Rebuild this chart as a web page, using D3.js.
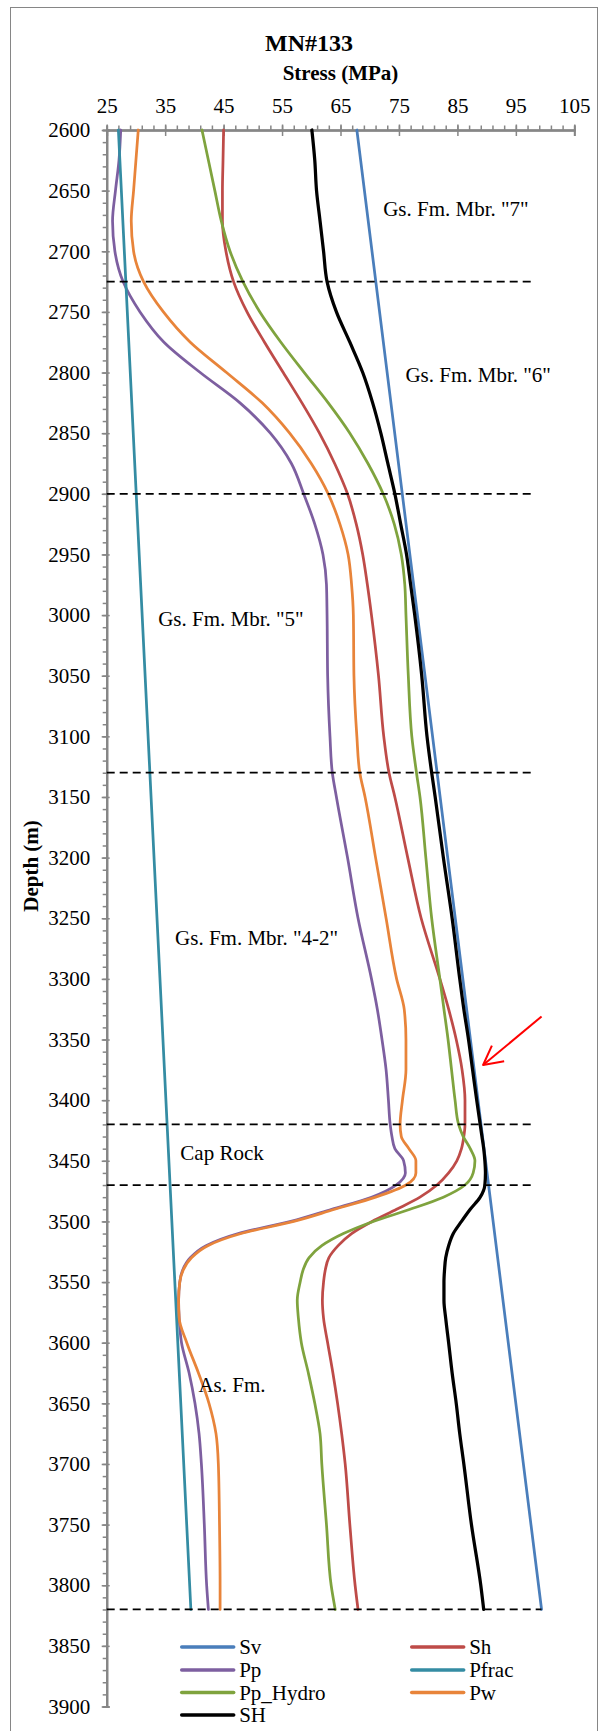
<!DOCTYPE html>
<html>
<head>
<meta charset="utf-8">
<script src="https://cdn.jsdelivr.net/npm/d3@7/dist/d3.min.js"></script>
<style>
  body { margin: 0; background: #fff; }
  svg, svg text { font-family: "Liberation Serif", "Times New Roman", serif; }
</style>
</head>
<body>
<div id="chart"></div>
<script>
const xTicks = [25, 35, 45, 55, 65, 75, 85, 95, 105];
const yTicks = [2600, 2650, 2700, 2750, 2800, 2850, 2900, 2950, 3000, 3050, 3100, 3150, 3200, 3250,
                3300, 3350, 3400, 3450, 3500, 3550, 3600, 3650, 3700, 3750, 3800, 3850, 3900];

// common depth grid for the curved series (m)
const depths = [2600, 2625, 2650, 2675, 2700, 2725, 2750, 2775, 2800, 2825, 2850, 2875, 2900, 2925,
                2950, 2975, 3000, 3050, 3100, 3130, 3150, 3200, 3250, 3300, 3325, 3350, 3375, 3400,
                3420, 3430, 3440, 3450, 3460, 3470, 3480, 3490, 3500, 3510, 3520, 3530, 3540, 3550,
                3565, 3580, 3600, 3625, 3650, 3675, 3700, 3750, 3800, 3820];

const sh = [45.0, 44.9, 44.8, 44.8, 45.4, 46.7, 49.0, 52.0, 55.2, 58.4, 61.4, 64.0, 66.2, 67.7,
            68.8, 69.6, 70.3, 71.5, 72.4, 73.3, 74.3, 76.5, 78.8, 82.0, 83.5, 84.8, 85.8, 86.3,
            86.3, 86.1, 85.7, 84.9, 83.5, 81.5, 78.6, 74.6, 70.4, 66.9, 64.6, 63.0, 62.4, 62.1,
            61.9, 62.1, 62.8, 63.7, 64.5, 65.2, 65.8, 66.6, 67.5, 68.0];

const pp = [27.4, 27.1, 26.5, 26.0, 26.4, 27.8, 30.7, 34.8, 41.0, 47.8, 53.0, 56.6, 58.7, 60.6,
            62.0, 62.6, 62.7, 62.8, 63.2, 63.6, 64.3, 66.2, 68.0, 70.3, 71.3, 72.1, 72.8, 73.2,
            73.5, 73.8, 74.3, 75.8, 76.1, 74.5, 70.3, 63.5, 56.5, 47.5, 42.0, 39.3, 38.0, 37.5,
            37.3, 37.4, 37.8, 39.1, 40.1, 40.8, 41.2, 41.7, 42.1, 42.4];

const ppHydro = [41.3, 42.4, 43.5, 44.6, 46.1, 48.3, 51.2, 54.8, 58.8, 62.9, 66.6, 69.7, 72.3, 74.2,
                 75.4, 76.0, 76.2, 76.6, 77.2, 78.0, 78.6, 79.6, 80.6, 82.0, 82.7, 83.4, 84.0, 84.6,
                 85.2, 86.0, 87.2, 88.0, 87.7, 86.3, 82.6, 76.9, 70.6, 65.5, 61.8, 59.6, 58.6, 58.1,
                 57.6, 57.8, 58.3, 59.5, 60.6, 61.5, 61.8, 62.6, 63.4, 64.1];

const pw = [30.4, 30.0, 29.6, 29.2, 29.6, 31.3, 34.7, 39.3, 45.5, 51.6, 56.3, 60.0, 62.9, 64.9,
            66.3, 66.9, 67.2, 67.3, 67.8, 68.3, 69.2, 71.0, 72.8, 74.6, 75.9, 76.2, 76.2, 75.6,
            75.2, 75.4, 76.7, 77.9, 77.9, 76.2, 71.0, 64.0, 57.0, 48.0, 42.3, 39.5, 38.1, 37.5,
            37.3, 37.4, 38.7, 40.7, 42.5, 43.7, 44.1, 44.3, 44.4, 44.4];

const shMax = [60.1, 60.6, 60.9, 61.5, 62.1, 62.7, 64.3, 66.6, 68.8, 70.5, 71.9, 73.1, 74.3, 75.3,
               76.3, 77.0, 77.7, 78.9, 79.8, 80.6, 81.2, 82.6, 84.1, 85.4, 86.1, 86.9, 87.6, 88.3,
               88.9, 89.2, 89.5, 89.7, 89.8, 89.7, 88.9, 87.2, 85.7, 84.3, 83.5, 83.0, 82.8, 82.7,
               82.7, 83.0, 83.5, 84.1, 84.8, 85.4, 86.1, 87.4, 89.0, 89.5];

// straight-line series
const svDepth = [2600, 3820];
const sv = [67.8, 99.4];
const pfracDepth = [2600, 3820];
const pfrac = [27.0, 39.4];

// formation boundaries (dashed)
const boundaryDepths = [2725, 2900, 3130, 3420, 3470, 3820];
const boundaryEnds = [98, 98, 98, 98, 98, 99.4];

// formation labels: [text, stress, depth of baseline]
const formationLabels = [
    ['Gs. Fm. Mbr. "7"', 72.3, 2671],
    ['Gs. Fm. Mbr. "6"', 76.1, 2808],
    ['Gs. Fm. Mbr. "5"', 33.8, 3009],
    ['Gs. Fm. Mbr. "4-2"', 36.7, 3272],
    ['Cap Rock', 37.6, 3449],
    ['As. Fm.', 40.7, 3641]
];

// red arrow: tail -> tip, plus the two head arms (stress, depth)
const arrowLine = [[99.4, 3331], [89.4, 3371]];
const arrowHead = [[90.9, 3355], [89.4, 3371], [93.0, 3368]];

const series = [
    { name: 'Sv',       depth: svDepth,    values: sv,      color: '#4a7ebb', width: 2.75 },
    { name: 'Sh',       depth: depths,     values: sh,      color: '#be4b48', width: 2.75 },
    { name: 'Pp',       depth: depths,     values: pp,      color: '#7d5fa0', width: 2.75 },
    { name: 'Pfrac',    depth: pfracDepth, values: pfrac,   color: '#348ca3', width: 2.75 },
    { name: 'Pp_Hydro', depth: depths,     values: ppHydro, color: '#7fa33e', width: 2.75 },
    { name: 'Pw',       depth: depths,     values: pw,      color: '#e8843a', width: 2.75 },
    { name: 'SH',       depth: depths,     values: shMax,   color: '#000000', width: 3.25 }
];

// ---- layout ----
const W = 600, H = 1731;
const plot = { left: 106.7, right: 574.3, top: 130, bottom: 1706.5 };
const AXIS = '#868686';
const FONT = '"Liberation Serif", "Times New Roman", serif';

const svg = d3.select('#chart').append('svg')
    .attr('width', W)
    .attr('height', H)
    .attr('font-family', FONT);

svg.append('rect')
    .attr('x', 10.5).attr('y', 7.5)
    .attr('width', 587).attr('height', 1740)
    .attr('fill', '#fff')
    .attr('stroke', AXIS)
    .attr('stroke-width', 1);

const x = d3.scaleLinear().domain([25, 105]).range([plot.left, plot.right]);
const y = d3.scaleLinear().domain([2600, 3900]).range([plot.top, plot.bottom]);

// --- titles ---
svg.append('text')
    .attr('x', 309).attr('y', 51)
    .attr('text-anchor', 'middle')
    .attr('font-size', '24px').attr('font-weight', 'bold')
    .text('MN#133');

svg.append('text')
    .attr('x', (plot.left + plot.right) / 2).attr('y', 80)
    .attr('text-anchor', 'middle')
    .attr('font-size', '21px').attr('font-weight', 'bold')
    .text('Stress (MPa)');

svg.append('text')
    .attr('transform', 'translate(38,866) rotate(-90)')
    .attr('text-anchor', 'middle')
    .attr('font-size', '21px').attr('font-weight', 'bold')
    .text('Depth (m)');

// --- axes ---
function styleAxis(g) {
    g.attr('font-family', FONT).attr('font-size', 21);
    g.selectAll('path.domain').attr('stroke', AXIS).attr('stroke-width', 2);
    g.selectAll('.tick line').attr('stroke', AXIS).attr('stroke-width', 1.5);
    g.selectAll('.tick text').attr('fill', '#000');
}

// minor ticks
svg.append('g')
    .attr('transform', `translate(0,${plot.top})`)
    .call(d3.axisTop(x).tickValues(d3.range(25, 105.01, 2)).tickSize(4.5).tickFormat(''))
    .call(styleAxis);
svg.append('g')
    .attr('transform', `translate(${plot.left},0)`)
    .call(d3.axisLeft(y).tickValues(d3.range(2600, 3900.1, 10)).tickSize(4).tickFormat(''))
    .call(styleAxis);

// major ticks, crossing the axis line
svg.append('g')
    .attr('transform', `translate(0,${plot.top})`)
    .call(d3.axisBottom(x).tickValues(xTicks).tickSize(6).tickFormat(''))
    .call(styleAxis);
svg.append('g')
    .attr('transform', `translate(${plot.left},0)`)
    .call(d3.axisRight(y).tickValues(yTicks).tickSize(3).tickFormat(''))
    .call(styleAxis);

svg.append('g')
    .attr('transform', `translate(0,${plot.top})`)
    .call(d3.axisTop(x).tickValues(xTicks).tickSize(5.5).tickPadding(11.5)
        .tickSizeOuter(0).tickFormat(d3.format('d')))
    .call(styleAxis);
svg.append('g')
    .attr('transform', `translate(${plot.left},0)`)
    .call(d3.axisLeft(y).tickValues(yTicks).tickSize(5).tickPadding(11.5)
        .tickSizeOuter(0).tickFormat(d3.format('d')))
    .call(styleAxis);

// --- series ---
const line = d3.line()
    .x(d => x(d[0]))
    .y(d => y(d[1]))
    .curve(d3.curveMonotoneY);

series.forEach(s => {
    const pts = s.values.map((v, i) => [v, s.depth[i]]);
    svg.append('path')
        .datum(pts)
        .attr('d', line)
        .attr('fill', 'none')
        .attr('stroke', s.color)
        .attr('stroke-width', s.width)
        .attr('stroke-linejoin', 'round')
        .attr('stroke-linecap', 'round');
});

// --- formation boundaries ---
boundaryDepths.forEach((d, i) => {
    svg.append('line')
        .attr('x1', x(25)).attr('x2', x(boundaryEnds[i]))
        .attr('y1', y(d)).attr('y2', y(d))
        .attr('stroke', '#000')
        .attr('stroke-width', 1.75)
        .attr('stroke-dasharray', '8,5');
});

formationLabels.forEach(([txt, v, d]) => {
    svg.append('text')
        .attr('x', x(v)).attr('y', y(d))
        .attr('font-size', '21px')
        .text(txt);
});

// --- red arrow ---
const plain = d3.line().x(d => x(d[0])).y(d => y(d[1]));
svg.append('path')
    .attr('d', plain(arrowLine))
    .attr('fill', 'none').attr('stroke', '#ff0000').attr('stroke-width', 2);
svg.append('path')
    .attr('d', plain(arrowHead))
    .attr('fill', 'none').attr('stroke', '#ff0000').attr('stroke-width', 2)
    .attr('stroke-linejoin', 'round');

// --- legend (two columns, Excel order) ---
const legendCols = [181.7, 411.7];
const legendRows = [1647, 1670, 1692.5, 1715];
const legend = svg.append('g');
series.forEach((s, i) => {
    const cx = legendCols[i % 2];
    const cy = legendRows[Math.floor(i / 2)];
    legend.append('line')
        .attr('x1', cx).attr('x2', cx + 52)
        .attr('y1', cy).attr('y2', cy)
        .attr('stroke', s.color)
        .attr('stroke-width', 3.5)
        .attr('stroke-linecap', 'round');
    legend.append('text')
        .attr('x', cx + 57.5).attr('y', cy + 7)
        .attr('font-size', '21px')
        .text(s.name);
});
</script>
</body>
</html>
